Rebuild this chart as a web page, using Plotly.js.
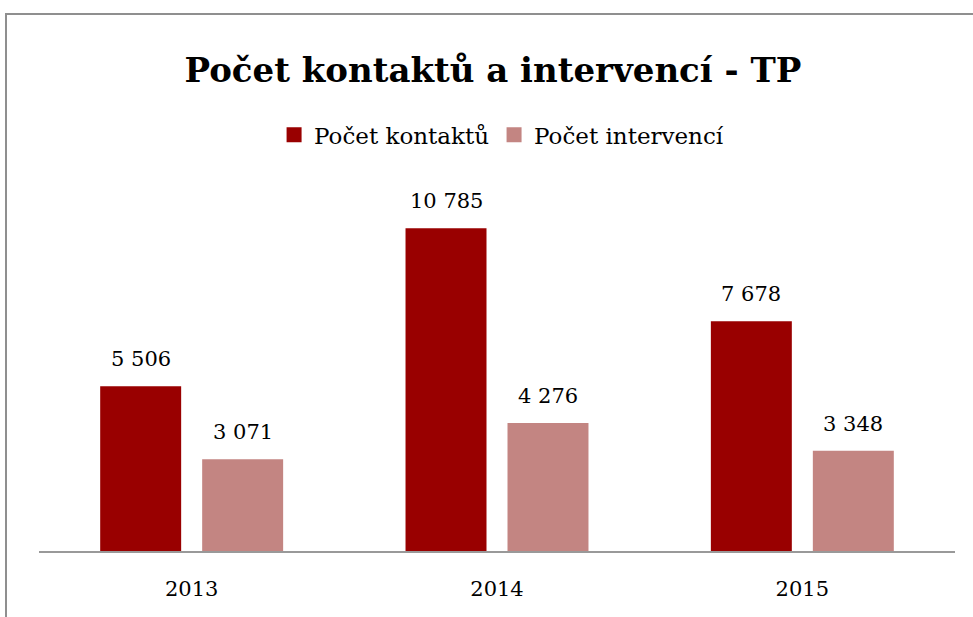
<!DOCTYPE html>
<html>
<head>
<meta charset="utf-8">
<script src="https://cdn.plot.ly/plotly-3.0.1.min.js"></script>
<style>
  html, body { margin: 0; padding: 0; background: #fff; }
  #wrap { position: relative; width: 973px; height: 617px; }
  #chart { width: 973px; height: 617px; }
  #frame { position: absolute; left: 5px; top: 13px; right: 0; bottom: 0;
           border-left: 2px solid #8f8f8f; border-top: 2px solid #8f8f8f; pointer-events: none; }
</style>
</head>
<body>
<div id="wrap"><div id="chart"></div><div id="frame"></div></div>
<script>
const years = ['2013', '2014', '2015'];
const kontakty = [5506, 10785, 7678];
const intervence = [3071, 4276, 3348];
const seriesNames = ['Počet kontaktů', 'Počet intervencí'];
const titleText = 'Počet kontaktů a intervencí - TP';

const FONT = 'DejaVu Serif, Liberation Serif, serif';
const colors = ['#990000', '#C38582'];

function fmt(v) {
  return String(v).replace(/\B(?=(\d{3})+(?!\d))/g, ' ');
}

const traces = [
  { type: 'bar', name: seriesNames[0], x: years, y: kontakty, marker: { color: colors[0] }, hoverinfo: 'none', showlegend: false },
  { type: 'bar', name: seriesNames[1], x: years, y: intervence, marker: { color: colors[1] }, hoverinfo: 'none', showlegend: false },
  // legend-only entries with larger square swatches
  { type: 'scatter', mode: 'markers', name: seriesNames[0], x: [null], y: [null],
    marker: { symbol: 'square', size: 15, color: colors[0] }, showlegend: true, hoverinfo: 'none' },
  { type: 'scatter', mode: 'markers', name: seriesNames[1], x: [null], y: [null],
    marker: { symbol: 'square', size: 15, color: colors[1] }, showlegend: true, hoverinfo: 'none' }
];

const annotations = [];
[kontakty, intervence].forEach((arr, si) => {
  arr.forEach((v, i) => {
    annotations.push({
      x: i, y: v, xref: 'x', yref: 'y',
      text: fmt(v), showarrow: false,
      xshift: si === 0 ? -51 : 51, yshift: 13,
      yanchor: 'bottom', xanchor: 'center',
      font: { family: FONT, size: 21, color: '#000' }
    });
  });
});

const layout = {
  width: 973, height: 617,
  margin: { l: 39, r: 18, t: 192, b: 66 },
  paper_bgcolor: '#fff', plot_bgcolor: '#fff',
  barmode: 'group', bargap: 0.332, bargroupgap: 0.206,
  title: { text: '<b>' + titleText + '</b>', font: { family: FONT, size: 34, color: '#000' },
           x: 0.4956, xref: 'paper', xanchor: 'center', y: 0.8866, yref: 'container', yanchor: 'middle' },
  legend: { orientation: 'h', x: 0.505, xanchor: 'center', y: 1.159, yanchor: 'middle',
            font: { family: FONT, size: 23, color: '#000' }, itemwidth: 30, traceorder: 'normal' },
  xaxis: { type: 'category', range: [-0.5, 2.5], showline: true, linecolor: '#999', linewidth: 2, ticks: '',
           showgrid: false, zeroline: false, tickfont: { family: FONT, size: 21, color: '#000' },
           ticklabelstandoff: 18, fixedrange: true },
  yaxis: { range: [0, 12000], visible: false, showgrid: false, zeroline: false, fixedrange: true },
  annotations: annotations,
  showlegend: true
};

Plotly.newPlot('chart', traces, layout, { displayModeBar: false, staticPlot: true });
</script>
</body>
</html>
